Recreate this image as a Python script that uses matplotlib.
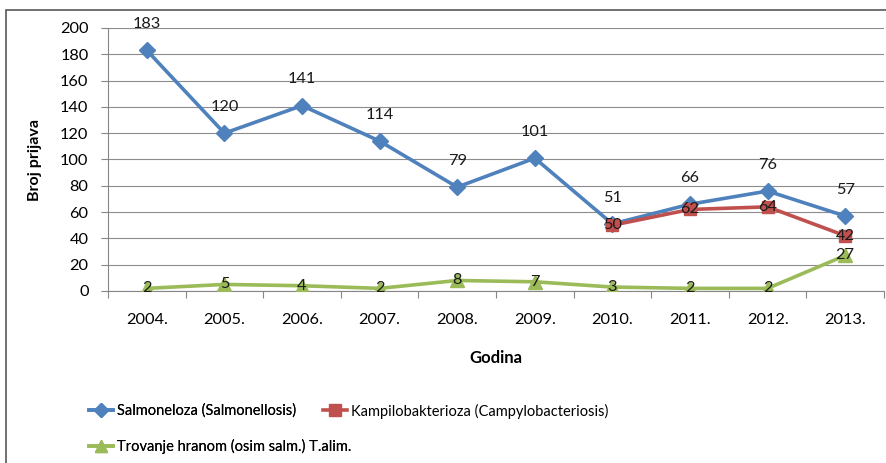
import matplotlib
matplotlib.use("Agg")
import matplotlib.pyplot as plt
from matplotlib.patches import Rectangle
from matplotlib.lines import Line2D
import numpy as np

years = ["2004.", "2005.", "2006.", "2007.", "2008.", "2009.", "2010.", "2011.", "2012.", "2013."]
salmonella = [183, 120, 141, 114, 79, 101, 51, 66, 76, 57]
kampilo_years_idx = [6, 7, 8, 9]
kampilo = [50, 62, 64, 42]
trovanje = [2, 5, 4, 2, 8, 7, 3, 2, 2, 27]
yticks = [0, 20, 40, 60, 80, 100, 120, 140, 160, 180, 200]
legend_labels = ['Salmoneloza (Salmonellosis)',
                 'Kampilobakterioza (Campylobacteriosis)',
                 'Trovanje hranom (osim salm.) T.alim.']

plt.rcParams['font.family'] = ['Lato', 'DejaVu Sans']

W, H = 886, 463
fig = plt.figure(figsize=(W / 100, H / 100), dpi=100)

# outer chart border
fig.patches.append(Rectangle((6 / W, -0.1), 1.2, (H - 10) / H + 0.1, transform=fig.transFigure,
                             fill=False, edgecolor='#595959', linewidth=1.2))

ax = fig.add_axes([108 / W, (H - 291) / H, (884 - 108) / W, (291 - 28) / H])

blue, red, green = '#4F81BD', '#C0504D', '#9BBB59'
x = np.arange(len(years))

ax.plot(x, salmonella, color=blue, lw=2.6, marker='D', ms=8, zorder=3)
ax.plot(kampilo_years_idx, kampilo, color=red, lw=2.6, marker='s', ms=9, zorder=4)
ax.plot(x, trovanje, color=green, lw=2.6, marker='^', ms=9.5, zorder=5)

fs = 11.8
for xi, v in zip(x, salmonella):
    ax.annotate(str(v), (xi, v), xytext=(0, 19), textcoords='offset points',
                ha='center', va='center', fontsize=fs, color='#1a1a1a', zorder=6)
for xi, v in zip(kampilo_years_idx, kampilo):
    ax.annotate(str(v), (xi, v), xytext=(0, 0), textcoords='offset points',
                ha='center', va='center', fontsize=fs, color='#1a1a1a', zorder=6)
for xi, v in zip(x, trovanje):
    ax.annotate(str(v), (xi, v), xytext=(0, 0), textcoords='offset points',
                ha='center', va='center', fontsize=fs, color='#1a1a1a', zorder=6)

ax.set_xlim(-0.5, len(years) - 0.5)
ax.set_ylim(0, 200)
ax.set_yticks(yticks)
ax.set_xticks(x)
ax.set_xticklabels(years, fontsize=fs)
ax.set_xticks(np.arange(-0.5, len(years), 1.0), minor=True)
ax.tick_params(axis='x', which='major', length=0, pad=16)
ax.tick_params(axis='x', which='minor', length=5, color='#868686', width=0.8)
ax.tick_params(axis='y', which='major', length=5, color='#868686', width=0.8, pad=9, labelsize=fs)

ax.grid(axis='y', color='#8c8c8c', lw=0.8)
ax.set_axisbelow(True)
for s in ['top', 'right']:
    ax.spines[s].set_visible(False)
for s in ['left', 'bottom']:
    ax.spines[s].set_color('#868686')
    ax.spines[s].set_linewidth(0.8)

fig.text(35 / W, (H - 160) / H, 'Broj prijava', rotation=90, ha='center', va='center',
         fontsize=11.5, fontweight='bold')
fig.text(496 / W, (H - 358) / H, 'Godina', ha='center', va='center',
         fontsize=12, fontweight='bold')

h_s = Line2D([], [], color=blue, lw=2.6, marker='D', ms=7)
h_k = Line2D([], [], color=red, lw=2.6, marker='s', ms=8)
h_t = Line2D([], [], color=green, lw=2.6, marker='^', ms=9)
lfs = 10.5
common = dict(loc='center left', frameon=False, fontsize=lfs, handlelength=1.65,
              handletextpad=0.25, borderpad=0, borderaxespad=0)
leg1 = fig.legend([h_s, h_t], [legend_labels[0], legend_labels[2]],
                  bbox_to_anchor=(89 / W, (H - 429) / H), labelspacing=1.45, **common)
fig.add_artist(leg1)
leg2 = fig.legend([h_k], [legend_labels[1]],
                  bbox_to_anchor=(323 / W, (H - 411) / H), **common)

fig.savefig('out.png', dpi=100)
